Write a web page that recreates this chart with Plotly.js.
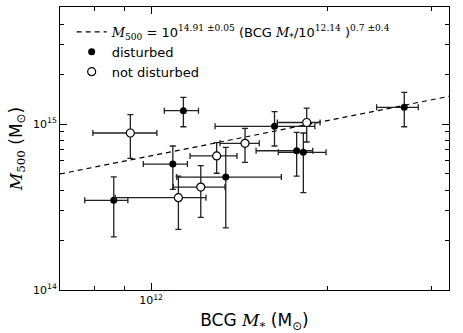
<!DOCTYPE html>
<html>
<head>
<meta charset="utf-8">
<script src="https://cdn.plot.ly/plotly-3.0.1.min.js"></script>
<style>
  html, body { margin: 0; padding: 0; background: #fff; }
  #chart { width: 463px; height: 333px; }
</style>
</head>
<body>
<div id="chart"></div>
<script>
// disturbed clusters (BCG stellar mass, M500), with lower / upper bounds
const distX   = [1.135e12, 1.089e12, 0.864e12, 1.340e12, 1.622e12, 1.769e12, 1.816e12, 2.697e12];
const distXlo = [1.053e12, 0.970e12, 0.771e12, 1.106e12, 1.285e12, 1.509e12, 1.646e12, 2.420e12];
const distXhi = [1.204e12, 1.153e12, 0.913e12, 1.666e12, 1.900e12, 1.884e12, 1.985e12, 2.849e12];
const distY   = [1.203e15, 0.574e15, 0.347e15, 0.479e15, 0.969e15, 0.690e15, 0.675e15, 1.261e15];
const distYlo = [0.963e15, 0.404e15, 0.209e15, 0.237e15, 0.737e15, 0.486e15, 0.386e15, 0.963e15];
const distYhi = [1.448e15, 0.737e15, 0.481e15, 0.724e15, 1.186e15, 0.891e15, 0.883e15, 1.552e15];

// not disturbed clusters
const calmX   = [0.922e12, 1.113e12, 1.215e12, 1.293e12, 1.445e12, 1.840e12];
const calmXlo = [0.796e12, 0.869e12, 1.091e12, 1.165e12, 1.310e12, 1.640e12];
const calmXhi = [1.023e12, 1.240e12, 1.336e12, 1.400e12, 1.528e12, 1.939e12];
const calmY   = [0.883e15, 0.360e15, 0.417e15, 0.642e15, 0.765e15, 1.021e15];
const calmYlo = [0.621e15, 0.232e15, 0.274e15, 0.505e15, 0.588e15, 0.779e15];
const calmYhi = [1.138e15, 0.486e15, 0.561e15, 0.772e15, 0.942e15, 1.248e15];

// fit line end points
const fitX = [7.0e11, 3.25e12];
const fitY = [5.0e14, 1.48e15];

// tick labels
const xTicks = [1e12];
const xTickText = ['10<sup>12</sup>'];
const yTicks = [1e14, 1e15];
const yTickText = ['10<sup>14</sup>', '10<sup>15</sup>'];

const serif = "'DejaVu Serif', serif";
const sans = "'DejaVu Sans', sans-serif";

function sf(s) { return '<span style="font-family:' + serif + '">' + s + '</span>'; }

const fitLabel = sf('<i>M</i><sub>500</sub>') + ' = 10' + '<sup>' + sf('14.91 ±0.05') + '</sup> (BCG ' +
  sf('<i>M</i><sub>*</sub>') + '/10<sup>' + sf('12.14') + '</sup> )<sup>' + sf('0.7 ±0.4') + '</sup>';

function diff(a, b) { return a.map((v, i) => v - b[i]); }

function errBars(hi, lo, c) {
  return {
    type: 'data', symmetric: false,
    array: diff(hi, c), arrayminus: diff(c, lo),
    color: '#222', thickness: 1.3, width: 3
  };
}

const traces = [
  {
    x: fitX, y: fitY, mode: 'lines', name: fitLabel,
    line: { color: '#000', width: 1.2, dash: '5px,4px' }
  },
  {
    x: distX, y: distY, mode: 'markers', name: 'disturbed',
    marker: { symbol: 'circle', size: 7, color: '#000' },
    error_x: errBars(distXhi, distXlo, distX),
    error_y: errBars(distYhi, distYlo, distY)
  },
  {
    x: calmX, y: calmY, mode: 'markers', name: 'not disturbed',
    marker: { symbol: 'circle', size: 8, color: '#fff', line: { color: '#000', width: 1.2 } },
    error_x: errBars(calmXhi, calmXlo, calmX),
    error_y: errBars(calmYhi, calmYlo, calmY)
  }
];

const xMinor = [7e11, 8e11, 9e11, 2e12, 3e12];
const yMinor = [2e14, 3e14, 4e14, 5e14, 6e14, 7e14, 8e14, 9e14, 2e15, 3e15, 4e15, 5e15];

const layout = {
  width: 463, height: 333,
  paper_bgcolor: '#fff', plot_bgcolor: '#fff',
  margin: { l: 60, r: 14, t: 7, b: 43 },
  font: { family: sans, color: '#000', size: 11 },
  showlegend: true,
  legend: {
    x: 0.03, y: 0.965, xanchor: 'left', yanchor: 'top',
    bgcolor: 'rgba(0,0,0,0)', borderwidth: 0,
    font: { family: sans, size: 13 }, tracegroupgap: 0
  },
  xaxis: {
    type: 'log', range: [11.845, 12.507],
    tickmode: 'array', tickvals: xTicks, ticktext: xTickText,
    ticks: 'inside', ticklen: 7, tickcolor: '#000',
    showline: true, linecolor: '#000', linewidth: 1, mirror: 'ticks',
    showgrid: false, zeroline: false,
    tickfont: { size: 11 },
    minor: { tickvals: xMinor, ticks: 'inside', ticklen: 4, tickcolor: '#000', showgrid: false },
    title: { text: 'BCG ' + sf('<i>M</i><sub>*</sub>') + ' (M<sub>⊙</sub>)', font: { size: 17 }, standoff: 8 }
  },
  yaxis: {
    type: 'log', range: [14, 15.705],
    tickmode: 'array', tickvals: yTicks, ticktext: yTickText,
    ticks: 'inside', ticklen: 7, tickcolor: '#000',
    showline: true, linecolor: '#000', linewidth: 1, mirror: 'ticks',
    showgrid: false, zeroline: false,
    tickfont: { size: 11 },
    minor: { tickvals: yMinor, ticks: 'inside', ticklen: 4, tickcolor: '#000', showgrid: false },
    title: { text: sf('<i>M</i><sub>500</sub>') + ' (M<sub>⊙</sub>)', font: { size: 17 }, standoff: 6 }
  }
};

Plotly.newPlot('chart', traces, layout, { displayModeBar: false, staticPlot: true });
</script>
</body>
</html>
